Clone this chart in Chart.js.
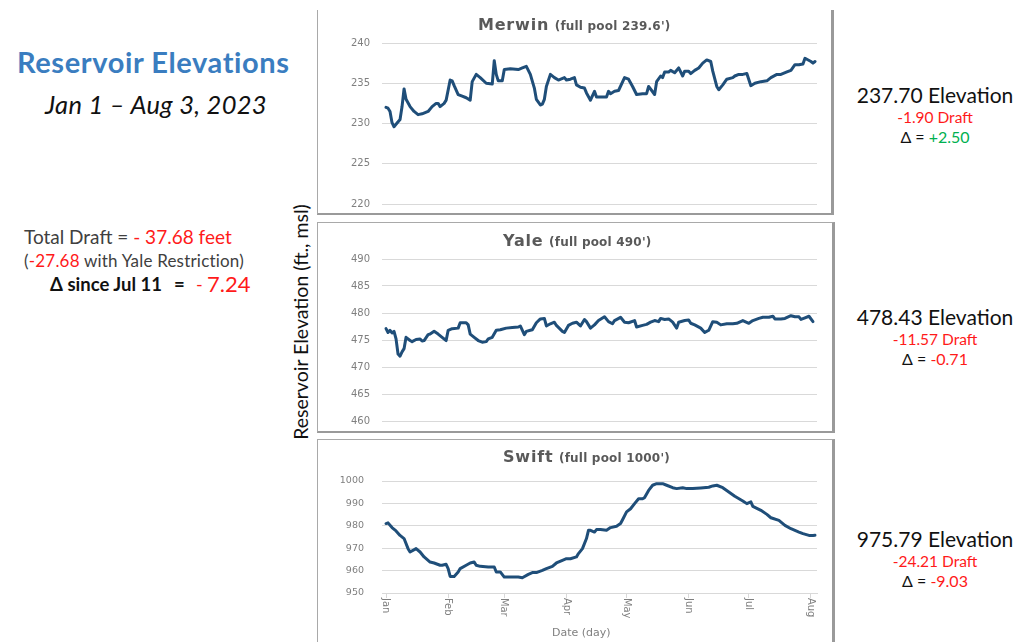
<!DOCTYPE html>
<html>
<head>
<meta charset="utf-8">
<script src="https://cdn.jsdelivr.net/npm/chart.js@4.4.1/dist/chart.umd.min.js"></script>
<style>
  html,body{margin:0;padding:0;background:#fff;}
  body{width:1013px;height:642px;position:relative;overflow:hidden;font-family:Lato,"Open Sans",sans-serif;}
  .abs{position:absolute;white-space:nowrap;}
  .panel{position:absolute;box-sizing:border-box;border:1px solid #a9a9a9;border-right:3px solid #9a9a9a;border-bottom:2px solid #9a9a9a;}
  .cwrap{position:absolute;}
  .cwrap canvas{display:block;}
  .ttl{position:absolute;white-space:nowrap;font-family:"DejaVu Sans",sans-serif;font-weight:bold;color:#595959;line-height:20px;height:20px;}
  .ttl .n{font-size:16px;letter-spacing:0.8px;}
  .ttl .s{font-size:12px;letter-spacing:0.2px;}
  .red{color:#ff1a1a;}
  .green{color:#00b050;}
  .rt{position:absolute;left:835px;width:200px;text-align:center;white-space:nowrap;}
  .rt.e{font-size:21px;color:#111;line-height:26px;height:26px;}
  .rt.d{font-size:15.5px;color:#ff1a1a;line-height:20px;height:20px;}
  .rt.c{font-size:16px;color:#111;line-height:20px;height:20px;}
</style>
</head>
<body>
<script>
// ---------- DATA ----------
const monthTicks  = [0, 31, 59, 90, 120, 151, 181, 212];
const monthLabels = ['Jan','Feb','Mar','Apr','May','Jun','Jul','Aug'];

const merwinRange = [220, 240, 5];
const yaleRange   = [460, 490, 5];
const swiftRange  = [950, 1000, 10];

const merwinDays = [0,1,2,3,4,5,7,8,9,10,12,14,16,18,21,23,25,26,27,29,30,32,33,34,36,38,40,42,43,45,
  47,50,53,54,55,56,58,59,62,66,68,70,72,74,75,77,78,79,80,82,84,86,89,90,92,94,95,97,99,100,
  102,104,105,108,110,111,112,114,116,119,121,123,125,128,130,131,134,135,137,138,139,141,142,144,146,148,149,151,152,154,
  156,158,160,162,163,165,166,168,170,173,174,176,178,180,182,184,187,190,192,195,197,200,202,204,206,208,209,212,213,214];
const merwinElev = [232.0,231.9,231.5,230.1,229.6,229.9,230.5,232.1,234.3,233.0,
  232.1,231.5,231.1,231.2,231.5,232.1,232.5,232.5,232.1,232.5,
  232.9,235.4,235.3,234.7,233.6,233.4,233.2,232.9,235.2,236.1,
  235.7,235.0,234.9,237.8,236.1,235.3,235.3,236.7,236.8,236.7,
  236.9,237.1,236.1,234.4,233.0,232.3,232.4,233.0,234.6,236.1,
  235.7,235.4,235.7,235.4,235.5,235.7,234.8,234.5,234.4,233.8,
  232.9,234.0,233.3,233.3,233.3,234.0,233.7,234.0,234.1,235.7,
  235.5,234.6,233.6,233.7,233.7,234.6,233.6,235.2,235.9,235.7,
  236.4,236.4,236.6,236.3,236.9,235.9,236.5,236.5,236.2,236.6,
  236.9,237.5,237.9,237.7,236.5,234.6,234.2,234.8,235.5,235.7,
  235.9,236.1,236.1,236.2,234.7,235.0,235.2,235.3,235.7,236.1,
  236.1,236.4,236.6,237.3,237.3,237.4,238.1,237.7,237.5,237.7];

const yaleDays = [0,1,2,3,4,5,6,7,8,9,10,12,13,15,17,18,19,21,22,24,26,28,30,31,33,36,37,40,41,42,
  44,46,48,50,51,53,55,57,60,63,66,67,69,70,72,73,75,77,79,80,82,84,85,88,89,91,93,95,97,99,
  100,102,104,106,109,111,113,114,117,119,121,124,125,128,130,132,134,136,137,139,
  141,143,145,146,149,151,152,154,157,159,161,163,165,167,170,173,175,178,181,183,
  186,188,191,193,194,197,199,202,204,206,207,209,211,213];
const yaleElev = [477.1,476.4,476.8,476.3,476.6,475.2,472.4,472.0,472.8,473.4,
  475.5,474.9,474.7,475.1,475.2,474.8,474.9,476.0,476.1,476.6,
  476.1,475.5,474.9,476.8,477.1,477.2,478.2,478.2,477.8,476.1,
  475.5,474.9,474.6,474.7,475.2,475.5,476.8,476.9,477.2,477.3,
  477.4,477.6,476.0,476.6,476.8,476.9,478.2,478.9,479.0,477.6,
  478.0,478.3,477.7,476.6,476.4,477.7,478.1,478.3,477.6,478.8,
  478.4,477.2,477.8,478.6,479.3,478.4,478.0,478.6,479.2,478.3,
  478.2,478.6,477.4,477.7,477.9,478.3,478.6,478.4,479.0,478.8,
  478.9,478.3,477.2,478.3,478.6,478.7,478.1,477.8,477.2,476.4,
  476.8,478.4,478.3,477.8,478.0,478.0,478.1,478.6,478.1,478.6,
  479.0,479.2,479.2,479.4,478.9,478.9,479.0,479.5,479.3,479.3,
  478.8,479.1,479.4,478.4];

const swiftDays = [0,1,3,5,7,9,11,12,15,17,19,22,24,27,28,30,31,32,34,36,
  37,40,42,44,45,47,51,54,55,57,59,62,66,68,71,73,75,78,80,83,
  85,88,90,92,95,96,98,100,101,102,104,105,107,110,112,115,117,118,120,122,
  124,126,128,129,131,133,135,138,140,143,145,148,150,153,157,161,163,165,168,171,
  174,178,180,182,183,187,190,192,196,199,202,206,208,211,213,214];
const swiftElev = [981.0,981.3,979.2,977.7,975.7,974.3,969.8,968.3,969.8,968.3,
  966.1,963.8,963.4,962.4,962.4,962.8,960.9,957.4,957.4,959.4,
  960.9,962.4,963.4,963.8,962.4,961.9,961.6,961.6,959.4,959.4,
  957.1,957.1,957.1,956.8,958.3,959.1,959.1,960.1,960.9,961.9,
  963.4,964.6,965.3,965.3,966.1,967.6,969.8,974.3,978.0,978.0,
  977.2,978.3,978.3,978.0,979.2,979.8,981.0,982.7,986.2,987.6,
  989.9,992.1,992.1,992.6,995.8,998.1,998.8,998.8,998.1,997.0,
  996.6,997.0,996.6,996.6,996.9,997.2,997.8,998.1,997.0,995.1,
  993.2,991.1,989.9,990.7,988.7,986.9,985.1,983.6,982.4,980.2,
  978.7,977.2,976.5,975.7,975.7,975.8];
</script>

<!-- left text -->
<div class="abs" style="left:17px;top:44px;font-size:29px;font-weight:bold;color:#3a7dc0;line-height:36px;letter-spacing:0.6px;">Reservoir Elevations</div>
<div class="abs" style="left:45px;top:89px;font-size:25.5px;font-style:italic;color:#111;line-height:30px;letter-spacing:0.3px;">Jan 1 – Aug 3, 2023</div>
<div class="abs" style="left:24px;top:224px;font-size:19px;color:#404040;line-height:26px;">Total Draft = <span class="red">- 37.68 feet</span></div>
<div class="abs" style="left:24px;top:250px;font-size:17px;color:#404040;line-height:22px;letter-spacing:0.2px;">(<span class="red">-27.68</span> with Yale Restriction)</div>
<div class="abs" style="left:50px;top:271px;font-size:18.5px;font-weight:bold;color:#111;line-height:26px;">Δ since Jul 11</div>
<div class="abs" style="left:174px;top:271px;font-size:18.5px;font-weight:bold;color:#111;line-height:26px;">=</div>
<div class="abs" style="left:196px;top:271px;font-size:18px;color:#ff1a1a;line-height:26px;">-</div>
<div class="abs" style="left:207px;top:270px;font-size:22px;color:#ff1a1a;line-height:28px;">7.24</div>

<!-- y-axis title -->
<div class="abs" style="left:301px;top:322px;width:0;height:0;">
  <div style="position:absolute;left:0;top:0;transform:translate(-50%,-50%) rotate(-90deg);font-size:19.5px;color:#111;white-space:nowrap;line-height:22px;">Reservoir Elevation (ft., msl)</div>
</div>

<!-- panels -->
<div class="panel" style="left:317px;top:10px;width:517px;height:205px;border-top:none;"></div>
<div class="panel" style="left:317px;top:222px;width:518px;height:211px;"></div>
<div class="panel" style="left:317px;top:439px;width:518px;height:210px;"></div>

<div class="cwrap" style="left:318px;top:10px;width:515px;height:212px;"><canvas id="cMerwin" width="515" height="212"></canvas></div>
<div class="cwrap" style="left:318px;top:223px;width:515px;height:216px;"><canvas id="cYale" width="515" height="216"></canvas></div>
<div class="cwrap" style="left:318px;top:440px;width:515px;height:202px;"><canvas id="cSwift" width="515" height="202"></canvas></div>

<div class="ttl" style="left:478px;top:15px;"><span class="n">Merwin</span> <span class="s">(full pool 239.6')</span></div>
<div class="ttl" style="left:503px;top:231px;"><span class="n">Yale</span> <span class="s">(full pool 490')</span></div>
<div class="ttl" style="left:503px;top:447px;"><span class="n">Swift</span> <span class="s">(full pool 1000')</span></div>
<div class="abs" style="left:552px;top:625px;font-family:'DejaVu Sans',sans-serif;font-size:11px;color:#808080;line-height:16px;">Date (day)</div>

<!-- right text -->
<div class="rt e" style="top:82px;">237.70 Elevation</div>
<div class="rt d" style="top:107px;">-1.90 Draft</div>
<div class="rt c" style="top:127px;">Δ = <span class="green">+2.50</span></div>

<div class="rt e" style="top:304px;">478.43 Elevation</div>
<div class="rt d" style="top:329px;">-11.57 Draft</div>
<div class="rt c" style="top:349px;">Δ = <span class="red">-0.71</span></div>

<div class="rt e" style="top:526px;">975.79 Elevation</div>
<div class="rt d" style="top:551px;">-24.21 Draft</div>
<div class="rt c" style="top:571px;">Δ = <span class="red">-9.03</span></div>

<script>
const LINE = '#1f4e79';
const GRID = '#d9d9d9';

function pts(days, vals){ return days.map((d,i)=>({x:d, y:vals[i]})); }

const rotLabels = {
  id:'rotLabels',
  afterDraw(chart, args, opts){
    if(!opts || !opts.on) return;
    const xs = chart.scales.x, ctx = chart.ctx;
    ctx.save();
    ctx.fillStyle = '#808080';
    ctx.font = '11px "DejaVu Sans Condensed","DejaVu Sans",sans-serif';
    ctx.textAlign = 'left';
    ctx.textBaseline = 'middle';
    xs.ticks.forEach((t)=>{
      const px = xs.getPixelForValue(t.value);
      ctx.save();
      ctx.translate(px, xs.top + 5);
      ctx.rotate(Math.PI/2);
      ctx.fillText(monthLabels[monthTicks.indexOf(t.value)], 0, 0);
      ctx.restore();
    });
    ctx.restore();
  }
};

function make(id, days, vals, range, padTop, showX, tickFont, tickPad, xH){
  return new Chart(document.getElementById(id), {
    type:'line',
    data:{datasets:[{data:pts(days, vals), borderColor:LINE, borderWidth:3, pointRadius:0, pointHoverRadius:0,
      tension:0, borderJoinStyle:'round', borderCapStyle:'round', fill:false}]},
    plugins:[rotLabels],
    options:{
      responsive:false, maintainAspectRatio:false, animation:false, devicePixelRatio:1,
      layout:{autoPadding:false, padding:{left:0, right:16, top:padTop, bottom:0}},
      plugins:{legend:{display:false}, title:{display:false}, tooltip:{enabled:false}, rotLabels:{on:showX}},
      scales:{
        x:{type:'linear', min:-2, max:215, display:true,
          afterBuildTicks(s){ s.ticks = monthTicks.map(v=>({value:v})); },
          afterFit(s){ s.height = xH; },
          grid:{display:showX, drawOnChartArea:false, drawTicks:showX, tickLength:5, color:GRID},
          border:{display:showX, color:GRID},
          ticks:{display:false}
        },
        y:{min:range[0], max:range[1],
          afterFit(s){ s.width = 64; },
          ticks:{stepSize:range[2], color:'#7f7f7f', padding:tickPad, font:{family:'DejaVu Sans', size:tickFont},
            callback:(v)=>String(v)},
          grid:{color:GRID, drawTicks:false},
          border:{display:false}
        }
      }
    }
  });
}

make('cMerwin', merwinDays, merwinElev, merwinRange, 33, false, 10, 12, 0);
make('cYale',   yaleDays,   yaleElev,   yaleRange,   36, false, 10, 12, 0);
make('cSwift',  swiftDays,  swiftElev,  swiftRange,  41, true,  9.5, 18, 49);
</script>
</body>
</html>
